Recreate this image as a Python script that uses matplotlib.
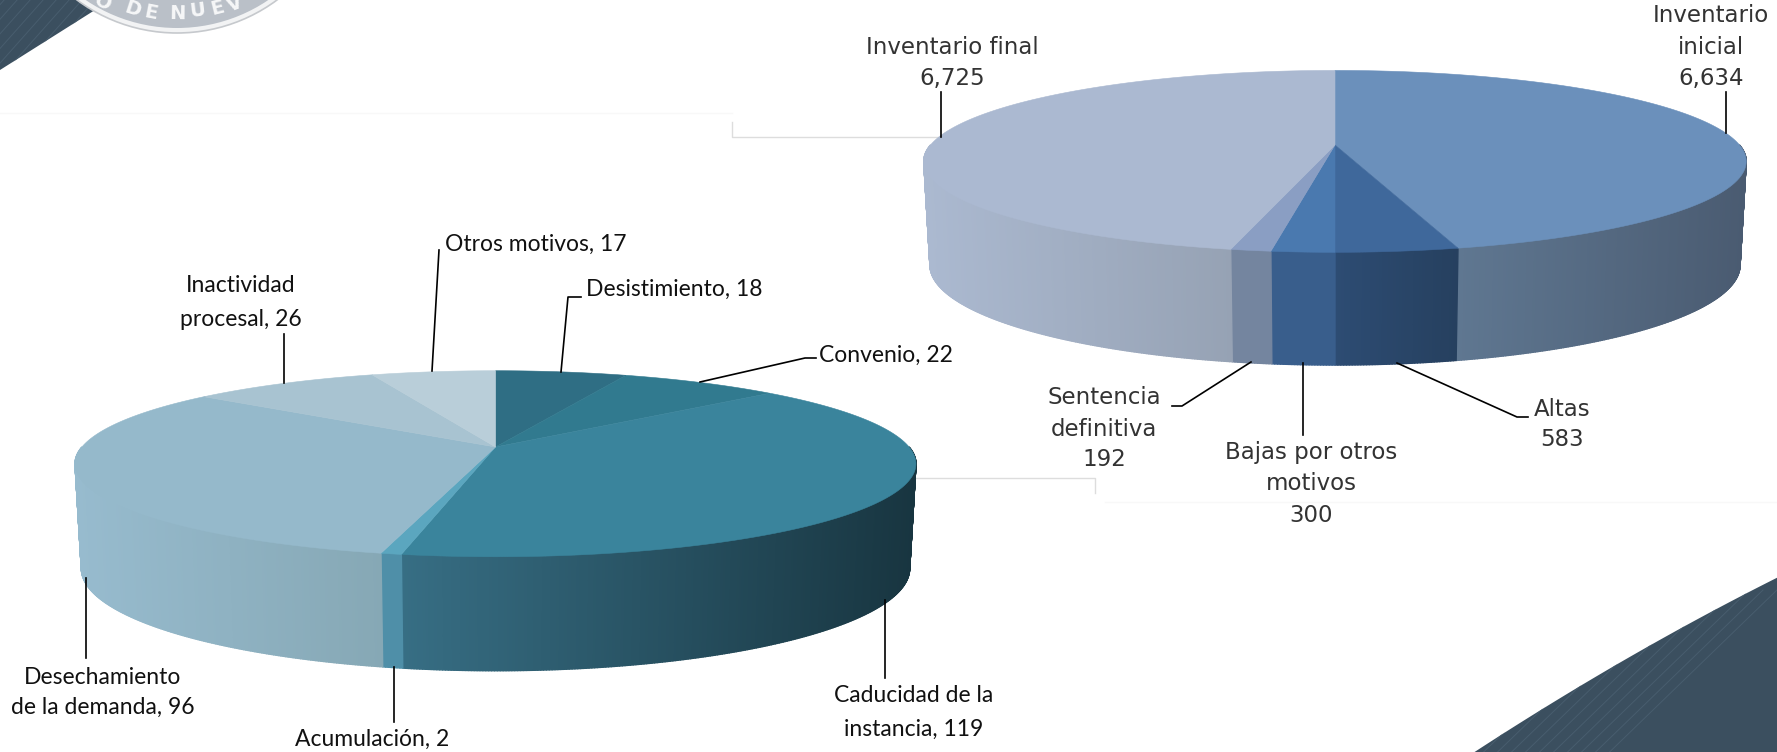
import numpy as np
import matplotlib
matplotlib.use("Agg")
import matplotlib.pyplot as plt
from matplotlib.collections import PolyCollection
from matplotlib.colors import to_rgb
from matplotlib.patches import Circle, Polygon

# ---------- data ----------
left_names = ["Desistimiento", "Convenio", "Caducidad de la instancia", "Acumulación",
              "Desechamiento de la demanda", "Inactividad procesal", "Otros motivos"]
left_values = [18, 22, 119, 2, 96, 26, 17]
right_names = ["Inventario inicial", "Altas", "Bajas por otros motivos",
               "Sentencia definitiva", "Inventario final"]
right_values = [6634, 583, 300, 192, 6725]

# ---------- colours ----------
left_top = ["#2F6E84", "#317A8F", "#3A849C", "#5BA6BF", "#95B9CB", "#A8C3D1", "#B9CED9"]
left_wall = [("#24505F", "#24505F"), ("#24505F", "#24505F"), ("#376E84", "#183540"),
             ("#4F8FA8", "#4F8FA8"), ("#97BBCE", "#86A8B5"), ("#88A0AB", "#88A0AB"), ("#90A5AF", "#90A5AF")]
right_top = ["#6B90BB", "#3F689B", "#4A79AF", "#8A9EC3", "#ABB9D1"]
right_wall = [("#5F7791", "#4A5B71"), ("#2D4C73", "#26405F"), ("#395E8C", "#395E8C"),
              ("#74859F", "#74859F"), ("#ABB9D0", "#96A2B4")]

K = 0.18
fig = plt.figure(figsize=(17.77, 7.52), dpi=100)
ax = fig.add_axes([0, 0, 1, 1])
ax.set_xlim(0, 1777)
ax.set_ylim(752, 0)
ax.axis("off")


def top_xy(theta, cx, cy, rx, ry):
    t = np.radians(theta)
    d = 1 + K * np.cos(t)
    return cx + rx * np.sin(t) / d, cy - ry * np.cos(t) / d


def draw_pie(values, top_cols, wall_cols, cx, cy, rx, ry, depth):
    edges = 360 * np.concatenate([[0], np.cumsum(values)]) / np.sum(values)
    for i in range(len(values)):
        a, b = edges[i], edges[i + 1]
        lo, hi = max(a, 90), min(b, 270)
        if hi <= lo:
            continue
        th = np.linspace(lo, hi, max(int((hi - lo) * 3), 2) + 1)
        xt, yt = top_xy(th, cx, cy, rx, ry)
        xb, yb = top_xy(th, cx, cy + depth, rx * 0.985, ry * 1.1)
        c0, c1 = np.array(to_rgb(wall_cols[i][0])), np.array(to_rgb(wall_cols[i][1]))
        xmin, xmax = xt.min(), xt.max()
        polys, cols = [], []
        for j in range(len(th) - 1):
            polys.append([(xt[j], yt[j]), (xt[j + 1], yt[j + 1]), (xb[j + 1], yb[j + 1]), (xb[j], yb[j])])
            f = (0.5 * (xt[j] + xt[j + 1]) - xmin) / max(xmax - xmin, 1)
            cols.append(c0 + (c1 - c0) * f)
        ax.add_collection(PolyCollection(polys, facecolors=cols, edgecolors=cols, linewidths=1.0, zorder=3))
    for i in range(len(values)):
        th = np.linspace(edges[i], edges[i + 1], 200)
        x, y = top_xy(th, cx, cy, rx, ry)
        ax.fill(np.r_[cx, x], np.r_[cy, y], color=top_cols[i], lw=0.4, zorder=4)


# ---------- background decoration ----------
band = "#3B4F5F"
stripe = "#485D6E"
tl = Polygon([(0, 0), (95, 0), (95, 10), (0, 70)], closed=True, fc=band, ec="none", zorder=1)
ax.add_patch(tl)
curve = np.polyfit([1473, 1533, 1617, 1683, 1777], [752, 717, 663, 627, 578], 2)
bx = np.linspace(1473, 1777, 60)
br = Polygon(np.r_[np.c_[bx, np.polyval(curve, bx)], [[1777, 752]]], closed=True, fc=band, ec="none", zorder=1)
ax.add_patch(br)
for off in range(0, 320, 14):
    ln, = ax.plot([1777 - off, 1560 - off], [590, 800], color=stripe, lw=0.7, zorder=1.5)
    ln.set_clip_path(br)
for off in range(0, 120, 13):
    ln, = ax.plot([off, off - 80], [-10, 80], color=stripe, lw=0.7, zorder=1.5)
    ln.set_clip_path(tl)
ax.add_patch(Circle((177, -135), 168, fc="#F2F3F4", ec="#C6C9CD", lw=1.2, zorder=2))
ax.add_patch(Circle((177, -135), 163, fc="#BAC0C8", ec="none", zorder=2))
seal = [("O", 103, 3, -26), ("D", 133, 9, -18), ("E", 151, 13, -11), ("N", 177, 14, -1),
        ("U", 197, 11, 7), ("E", 217, 8, 14), ("V", 235, 4, 21)]
for ch, x, y, r in seal:
    ax.text(x, y, ch, fontsize=14, family="DejaVu Sans", color="#F6F7F8", ha="center", va="center",
            rotation=r, weight="bold", zorder=2.5)

# faint guide lines
faint = "#DDDDDD"
ax.plot([732, 732, 941], [122, 137, 137], color=faint, lw=1, zorder=1)
ax.plot([905, 1095, 1095], [478, 478, 493], color=faint, lw=1, zorder=1)
ax.plot([0, 732], [113, 113], color="#F8F8F8", lw=1, zorder=1)
ax.plot([1105, 1777], [502, 502], color="#F8F8F8", lw=1, zorder=1)

# ---------- pies ----------
draw_pie(left_values, left_top, left_wall, 495.5, 447, 413.6, 90, 103)
draw_pie(right_values, right_top, right_wall, 1335, 145, 404.5, 88, 102)

# ---------- leader lines ----------
leaders = [
    [(432, 371), (439, 250)], [(561, 372), (568, 297), (581, 297)], [(700, 382), (805, 358), (816, 358)],
    [(284, 334), (284, 383)], [(85.5, 578), (85.5, 658)], [(393.5, 667), (393.5, 722)], [(884.6, 600), (884.6, 678)],
    [(941, 92), (941, 137)], [(1726, 92), (1726, 133)], [(1397, 363), (1517, 417), (1528, 417)],
    [(1303, 363), (1303, 435)], [(1251, 362), (1182, 406), (1172, 406)],
]
for pts in leaders:
    xs, ys = zip(*pts)
    ax.plot(xs, ys, color="black", lw=1.2, zorder=5)

# ---------- labels ----------
LF = "Lato"
RF = "DejaVu Sans"
lkw = dict(family=LF, fontsize=16.5, color="#111111", va="center", zorder=6)
rkw = dict(family=RF, fontsize=16.5, color="#333333", va="center", ha="center", zorder=6)
ax.text(445, 244, f"{left_names[6]}, {left_values[6]}", ha="left", **lkw)
ax.text(585.5, 289, f"{left_names[0]}, {left_values[0]}", ha="left", **lkw)
ax.text(819, 355, f"{left_names[1]}, {left_values[1]}", ha="left", **lkw)
ax.text(241, 285, "Inactividad", ha="center", **lkw)
ax.text(241, 320, f"procesal, {left_values[5]}", ha="center", **lkw)
ax.text(103, 677, "Desechamiento", ha="center", **lkw)
ax.text(103, 707, f"de la demanda, {left_values[4]}", ha="center", **lkw)
ax.text(372, 739, f"{left_names[3]}, {left_values[3]}", ha="center", **lkw)
ax.text(914, 696, "Caducidad de la", ha="center", **lkw)
ax.text(914, 729, f"instancia, {left_values[2]}", ha="center", **lkw)

ax.text(952, 47, right_names[4], **rkw)
ax.text(952, 78, f"{right_values[4]:,}", **rkw)
ax.text(1711, 16, "Inventario", **rkw)
ax.text(1711, 47, "inicial", **rkw)
ax.text(1711, 78, f"{right_values[0]:,}", **rkw)
ax.text(1562, 409, right_names[1], **rkw)
ax.text(1562, 440, f"{right_values[1]}", **rkw)
ax.text(1311, 453, "Bajas por otros", **rkw)
ax.text(1311, 483, "motivos", **rkw)
ax.text(1311, 515, f"{right_values[2]}", **rkw)
ax.text(1104, 398, "Sentencia", **rkw)
ax.text(1104, 430, "definitiva", **rkw)
ax.text(1104, 460, f"{right_values[3]}", **rkw)

fig.savefig("out.png", dpi=100, facecolor="white")
